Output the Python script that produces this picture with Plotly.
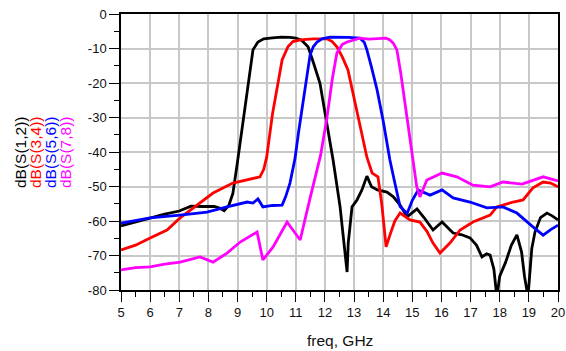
import plotly.graph_objects as go

# ---- data ----
freq_s12 = [5.0, 5.5, 6.0, 6.5, 7.0, 7.4, 7.8, 8.2, 8.4, 8.54, 8.7, 8.84, 8.98, 9.2, 9.4, 9.53, 9.7, 9.9,
            10.2, 10.5, 10.8, 11.0, 11.2, 11.42, 11.6, 11.83, 12.05, 12.28, 12.52, 12.69, 12.76, 12.8, 12.93,
            13.1, 13.27, 13.44, 13.6, 13.8, 14.13, 14.35, 14.58, 14.82, 15.0, 15.16, 15.4, 15.71, 16.02,
            16.4, 16.7, 16.98, 17.2, 17.39, 17.55, 17.67, 17.8, 17.9, 18.0, 18.2, 18.4, 18.59, 18.75,
            18.85, 18.97, 19.1, 19.21, 19.4, 19.62, 19.8, 20.0]
db_s12 = [-61.4, -60.3, -59.0, -58.0, -57.1, -55.7, -55.8, -55.8, -56.3, -57.0, -55.5, -52.0, -44.0, -31.0,
          -18.5, -10.4, -8.1, -7.2, -6.9, -6.7, -6.8, -7.0, -7.6, -9.5, -14.0, -20.1, -31.0, -42.3, -55.9,
          -68.4, -74.8, -66.4, -55.9, -53.9, -51.0, -47.0, -50.1, -51.0, -51.6, -53.0, -55.4, -58.8, -57.5,
          -56.5, -59.0, -62.6, -60.3, -63.5, -64.0, -64.9, -67.0, -70.4, -69.5, -69.9, -74.0, -82.0, -76.0,
          -72.0, -67.0, -64.0, -69.0, -76.0, -82.0, -68.0, -63.2, -59.0, -57.7, -58.5, -59.7]

freq_s34 = [5.0, 5.5, 6.0, 6.58, 7.03, 7.47, 8.16, 8.84, 9.3, 9.77, 9.9, 10.0, 10.2, 10.4, 10.53, 10.73,
            10.9, 11.15, 11.6, 12.07, 12.25, 12.41, 12.6, 12.79, 13.1, 13.44, 13.62, 13.82, 13.95, 14.1,
            14.23, 14.4, 14.58, 14.92, 15.26, 15.5, 15.71, 15.95, 16.29, 16.64, 17.08, 17.67, 17.9, 18.46,
            18.8, 19.14, 19.49, 19.75, 20.0]
db_s34 = [-68.4, -67.0, -64.9, -62.6, -59.1, -56.2, -51.9, -49.0, -48.0, -47.2, -45.0, -41.5, -29.0, -19.0,
          -13.3, -9.5, -8.0, -7.5, -7.2, -7.2, -8.0, -9.5, -12.5, -16.2, -28.5, -41.5, -46.1, -47.2, -55.0,
          -67.5, -64.1, -60.0, -57.7, -59.7, -60.3, -63.0, -66.4, -69.3, -66.4, -62.6, -60.3, -58.3, -55.9,
          -54.5, -53.9, -50.4, -48.7, -49.0, -50.1]

freq_s56 = [5.0, 6.0, 7.03, 7.95, 8.64, 9.33, 9.53, 9.7, 9.87, 10.2, 10.53, 10.65, 10.8, 10.97, 11.1, 11.3,
            11.49, 11.6, 11.73, 11.9, 12.17, 12.8, 13.2, 13.35, 13.44, 13.6, 13.79, 14.0, 14.23, 14.4,
            14.58, 14.82, 15.0, 15.2, 15.61, 16.02, 16.4, 16.98, 17.56, 18.11, 18.59, 19.14, 19.49, 19.75,
            20.0]
db_s56 = [-60.6, -59.1, -58.3, -57.4, -55.9, -54.5, -54.8, -53.6, -55.9, -55.5, -55.4, -53.0, -49.0, -42.0,
          -34.0, -22.0, -11.9, -9.5, -8.1, -7.2, -6.7, -6.8, -7.0, -8.2, -10.4, -15.5, -22.0, -31.0, -42.3,
          -49.0, -55.8, -57.8, -54.0, -51.0, -52.5, -51.0, -53.3, -54.5, -56.2, -55.9, -57.7, -61.7, -64.1,
          -62.5, -61.2]

freq_s78 = [5.0, 5.5, 6.0, 6.5, 7.03, 7.4, 7.71, 8.16, 8.64, 9.09, 9.4, 9.67, 9.87, 10.22, 10.7, 11.15,
            11.5, 11.85, 12.07, 12.25, 12.41, 12.6, 12.76, 13.2, 13.5, 13.89, 14.1, 14.23, 14.35, 14.47,
            14.6, 14.8, 15.02, 15.15, 15.26, 15.5, 16.02, 16.53, 17.08, 17.67, 18.11, 18.77, 19.49, 20.0]
db_s78 = [-74.2, -73.5, -73.3, -72.5, -71.9, -71.0, -70.4, -71.9, -69.3, -66.1, -64.5, -63.2, -71.3, -67.5,
          -60.3, -65.5, -53.0, -41.0, -30.0, -19.0, -11.3, -8.8, -8.1, -7.0, -7.3, -7.2, -7.0, -7.5, -8.5,
          -10.4, -17.0, -29.0, -42.3, -50.0, -53.0, -48.1, -46.1, -47.2, -49.6, -50.1, -48.7, -49.3, -47.2,
          -48.4]

series_names = ["dB(S(1,2))", "dB(S(3,4))", "dB(S(5,6))", "dB(S(7,8))"]
series_colors = ["#000000", "#FF0000", "#0000FF", "#FF00FF"]
series_x = [freq_s12, freq_s34, freq_s56, freq_s78]
series_y = [db_s12, db_s34, db_s56, db_s78]

x_ticks = list(range(5, 21))
y_ticks = list(range(-80, 1, 10))
x_title = "freq, GHz"

# ---- figure ----
W, H = 566, 351
ML, MR, MT, MB = 121, 8, 14, 61
FONT = "Liberation Sans, Arial, sans-serif"

fig = go.Figure()
for name, col, xs, ys in zip(series_names, series_colors, series_x, series_y):
    fig.add_trace(go.Scatter(x=xs, y=ys, mode="lines", name=name,
                             line=dict(color=col, width=2.8), showlegend=False))

axis_common = dict(
    showgrid=True, gridcolor="#c8c8c8", gridwidth=1.5,
    showline=True, linecolor="black", linewidth=1.5, mirror=True,
    ticks="outside", ticklen=10, tickwidth=1, tickcolor="black",
    tickfont=dict(family=FONT, size=13, color="#111111"),
    zeroline=False, automargin=False,
)

fig.update_xaxes(range=[5, 20], tickvals=x_ticks, ticktext=[str(v) for v in x_ticks],
                 minor=dict(dtick=0.5, ticklen=5, tickcolor="black", ticks="outside", showgrid=False),
                 **axis_common)
fig.update_yaxes(range=[-80, 0], tickvals=y_ticks, ticktext=[str(v) for v in y_ticks],
                 minor=dict(dtick=5, ticklen=5, tickcolor="black", ticks="outside", showgrid=False),
                 **axis_common)

pw = W - ML - MR
ph = H - MT - MB
label_px = [20, 35, 50, 65]
for name, col, px in zip(series_names, series_colors, label_px):
    fig.add_annotation(text=name, xref="paper", yref="paper", x=(px - ML) / pw, y=0.5,
                       textangle=-90, showarrow=False, xanchor="center", yanchor="middle",
                       font=dict(family=FONT, size=15.5, color=col))

fig.add_annotation(text=x_title, xref="paper", yref="paper", x=0.5, y=-(340 - (MT + ph)) / ph,
                   showarrow=False, xanchor="center", yanchor="middle",
                   font=dict(family=FONT, size=15.5, color="#111111"))

fig.update_layout(width=W, height=H, margin=dict(l=ML, r=MR, t=MT, b=MB),
                  paper_bgcolor="white", plot_bgcolor="white")

fig.write_html("out.html", config={"displayModeBar": False},
               post_script="document.body.style.margin='0px';document.body.style.overflow='hidden';")
